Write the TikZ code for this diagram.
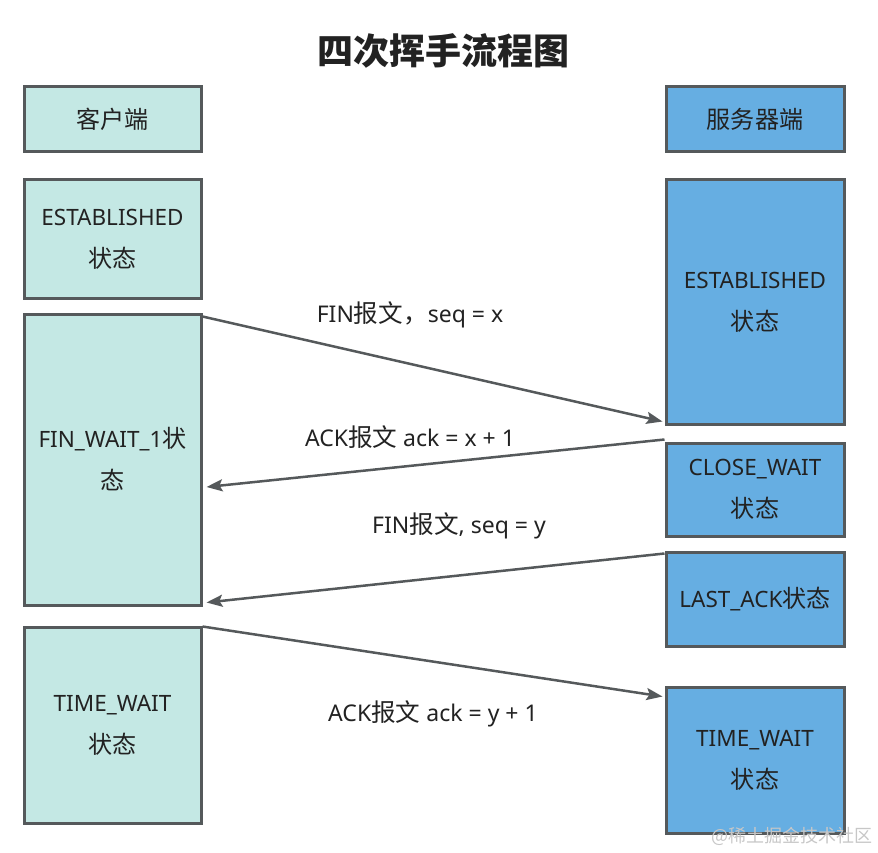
\documentclass[tikz,border=0pt]{standalone}
\usepackage{fontspec}
\setmainfont{Noto Sans}
\newfontfamily\cjk[Scale=1.07]{Noto Sans CJK SC}
\newfontfamily\cjktitle{Noto Sans CJK SC}
\usetikzlibrary{arrows.meta,calc}
\definecolor{cfill}{HTML}{C4E8E4}
\definecolor{sfill}{HTML}{66AEE2}
\definecolor{bord}{HTML}{55595B}
\definecolor{txt}{HTML}{222222}
\tikzset{
  box/.style={draw=bord, line width=3pt, align=center, inner sep=0pt,
    font=\fontsize{22.5}{42}\selectfont, text=txt},
  cbox/.style={box, fill=cfill, minimum width=177pt},
  sbox/.style={box, fill=sfill, minimum width=178pt},
  arr/.style={draw=bord, line width=2.5pt, -{Stealth[length=16pt,width=12pt,inset=3pt]}},
  lbl/.style={font=\fontsize{23}{26}\selectfont, text=txt, inner sep=0pt},
}
\begin{document}
\begin{tikzpicture}[x=1pt,y=-1pt]
\useasboundingbox (0,0) rectangle (878,853);
\node[font=\cjktitle\bfseries\fontsize{36}{40}\selectfont, text=txt] (title) at (443,51) {四次挥手流程图};
% client column
\node[cbox, minimum height=65pt]  (c0) at (112.5,119.5) {{\cjk 客户端}};
\node[cbox, minimum height=118pt] (c1) at (112.5,239) {ESTABLISHED\\{\cjk 状态}};
\node[cbox, minimum height=291pt] (c2) at (112.5,459.5) {FIN\_WAIT\_1{\cjk 状}\\{\cjk 态}};
\node[cbox, minimum height=196pt] (c3) at (112.5,725) {TIME\_WAIT\\{\cjk 状态}};
% server column
\node[sbox, minimum height=65pt]  (s0) at (755,119.5) {{\cjk 服务器端}};
\node[sbox, minimum height=244pt] (s1) at (755,302) {ESTABLISHED\\{\cjk 状态}};
\node[sbox, minimum height=93pt]  (s2) at (755,489.5) {CLOSE\_WAIT\\{\cjk 状态}};
\node[sbox, minimum height=94pt]  (s3) at (755,599) {LAST\_ACK{\cjk 状态}};
\node[sbox, minimum height=146pt] (s4) at (755,760) {TIME\_WAIT\\{\cjk 状态}};
% arrows
\draw[arr] ($(c2.north east)+(0,4)$) -- ($(s1.south west)+(-2,-4)$);
\draw[arr] ($(s2.north west)+(0,-2)$) -- ($(c2.east)+(4,27.5)$);
\draw[arr] ($(s3.north west)+(0,3)$) -- ($(c2.south east)+(4,-4)$);
\draw[arr] ($(c3.north east)+(0,1)$) -- ($(s4.north west)+(-2,11)$);
% labels
\node[lbl] (l1) at (410,315) {FIN{\cjk 报文，}seq = x};
\node[lbl] (l2) at (410,437) {ACK{\cjk 报文} ack = x + 1};
\node[lbl] (l3) at (459,526) {FIN{\cjk 报文}, seq = y};
\node[lbl] (l4) at (433,714) {ACK{\cjk 报文} ack = y + 1};
% watermark
\node[font=\cjktitle\fontsize{18}{18}\selectfont, text=black!22, anchor=east, inner sep=0pt] (wm) at (873,836) {@稀土掘金技术社区};
\end{tikzpicture}
\end{document}
